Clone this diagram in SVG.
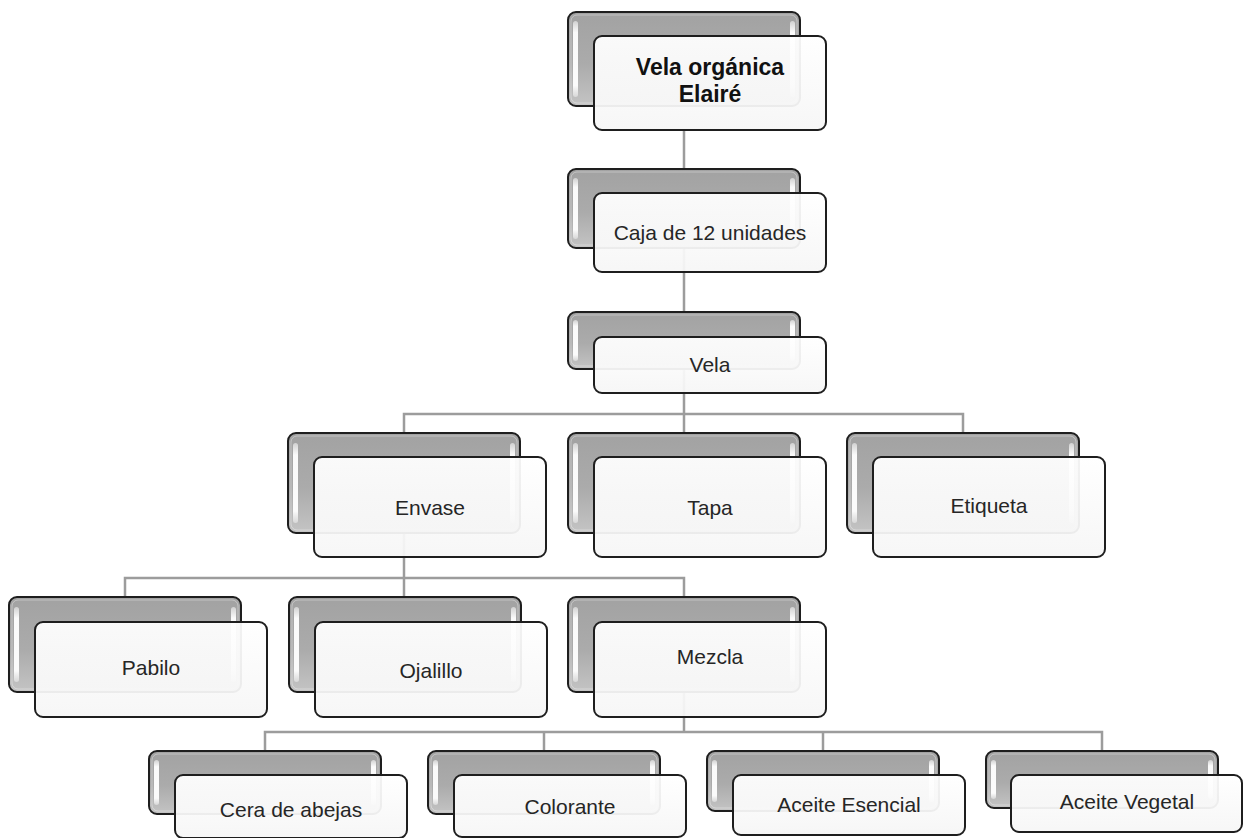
<svg xmlns="http://www.w3.org/2000/svg" width="1244" height="838" viewBox="0 0 1244 838">
  <defs>
    <linearGradient id="gBack" x1="0" y1="0" x2="0" y2="1">
      <stop offset="0" stop-color="#a2a2a2"/>
      <stop offset="0.55" stop-color="#ababab"/>
      <stop offset="1" stop-color="#c4c4c4"/>
    </linearGradient>
    <linearGradient id="gFront" x1="0" y1="0" x2="0" y2="1">
      <stop offset="0" stop-color="#ffffff"/>
      <stop offset="1" stop-color="#f6f6f6"/>
    </linearGradient>
    <linearGradient id="gShine" x1="0" y1="0" x2="0" y2="1">
      <stop offset="0" stop-color="#ffffff" stop-opacity="0.5"/>
      <stop offset="0.15" stop-color="#ffffff" stop-opacity="0.95"/>
      <stop offset="0.85" stop-color="#ffffff" stop-opacity="0.95"/>
      <stop offset="1" stop-color="#ffffff" stop-opacity="0.4"/>
    </linearGradient>
    <style>
      .conn{fill:none;stroke:#9c9c9c;stroke-width:2.5}
      .back{fill:url(#gBack);stroke:#1e1e1e;stroke-width:2}
      .inner{fill:none;stroke:#ffffff;stroke-opacity:0.35;stroke-width:1}
      .shine{fill:url(#gShine)}
      .front{fill:url(#gFront);fill-opacity:0.94;stroke:#1e1e1e;stroke-width:2}
      .lbl{font-family:"Liberation Sans",Arial,sans-serif;font-size:21px;fill:#262626;text-anchor:middle}
      .title{font-weight:bold;font-size:23px;fill:#111}
    </style>
  </defs>
  <rect width="1244" height="838" fill="#ffffff"/>

  <!-- connectors -->
  <g id="connectors">
    <path class="conn" d="M684 130 V433"/>
    <path class="conn" d="M404 433 V414 H963 V433"/>
    <path class="conn" d="M404 533 V578"/>
    <path class="conn" d="M125 597 V578 H684 V597"/>
    <path class="conn" d="M404 578 V597"/>
    <path class="conn" d="M684 692 V732"/>
    <path class="conn" d="M265 751 V732 H1102 V751"/>
    <path class="conn" d="M544 732 V751"/>
    <path class="conn" d="M823 732 V751"/>
  </g>

  <!-- level 0 -->
  <g id="n-vela-organica">
    <rect class="back" x="568" y="12" width="232" height="94" rx="8"/>
    <rect class="inner" x="571" y="15" width="226" height="88" rx="6"/>
    <rect class="shine" x="573" y="21" width="5" height="76" rx="2.5"/>
    <rect class="shine" x="790" y="21" width="5" height="76" rx="2.5"/>
    <rect class="front" x="594" y="36" width="232" height="94" rx="8"/>
    <text class="lbl title" x="710" y="75">Vela orgánica</text>
    <text class="lbl title" x="710" y="102">Elairé</text>
  </g>

  <!-- level 1 -->
  <g id="n-caja">
    <rect class="back" x="568" y="169" width="232" height="79" rx="8"/>
    <rect class="inner" x="571" y="172" width="226" height="73" rx="6"/>
    <rect class="shine" x="573" y="178" width="5" height="61" rx="2.5"/>
    <rect class="shine" x="790" y="178" width="5" height="61" rx="2.5"/>
    <rect class="front" x="594" y="193" width="232" height="79" rx="8"/>
    <text class="lbl" x="710" y="240">Caja de 12 unidades</text>
  </g>

  <!-- level 2 -->
  <g id="n-vela">
    <rect class="back" x="568" y="312" width="232" height="57" rx="8"/>
    <rect class="inner" x="571" y="315" width="226" height="51" rx="6"/>
    <rect class="shine" x="573" y="320" width="5" height="41" rx="2.5"/>
    <rect class="shine" x="790" y="320" width="5" height="41" rx="2.5"/>
    <rect class="front" x="594" y="337" width="232" height="56" rx="8"/>
    <text class="lbl" x="710" y="372">Vela</text>
  </g>

  <!-- level 3 -->
  <g id="n-envase">
    <rect class="back" x="288" y="433" width="232" height="100" rx="8"/>
    <rect class="inner" x="291" y="436" width="226" height="94" rx="6"/>
    <rect class="shine" x="293" y="443" width="5" height="80" rx="2.5"/>
    <rect class="shine" x="510" y="443" width="5" height="80" rx="2.5"/>
    <rect class="front" x="314" y="457" width="232" height="100" rx="8"/>
    <text class="lbl" x="430" y="515">Envase</text>
  </g>
  <g id="n-tapa">
    <rect class="back" x="568" y="433" width="232" height="100" rx="8"/>
    <rect class="inner" x="571" y="436" width="226" height="94" rx="6"/>
    <rect class="shine" x="573" y="443" width="5" height="80" rx="2.5"/>
    <rect class="shine" x="790" y="443" width="5" height="80" rx="2.5"/>
    <rect class="front" x="594" y="457" width="232" height="100" rx="8"/>
    <text class="lbl" x="710" y="515">Tapa</text>
  </g>
  <g id="n-etiqueta">
    <rect class="back" x="847" y="433" width="232" height="100" rx="8"/>
    <rect class="inner" x="850" y="436" width="226" height="94" rx="6"/>
    <rect class="shine" x="852" y="443" width="5" height="80" rx="2.5"/>
    <rect class="shine" x="1069" y="443" width="5" height="80" rx="2.5"/>
    <rect class="front" x="873" y="457" width="232" height="100" rx="8"/>
    <text class="lbl" x="989" y="513">Etiqueta</text>
  </g>

  <!-- level 4 -->
  <g id="n-pabilo">
    <rect class="back" x="9" y="597" width="232" height="95" rx="8"/>
    <rect class="inner" x="12" y="600" width="226" height="89" rx="6"/>
    <rect class="shine" x="14" y="607" width="5" height="75" rx="2.5"/>
    <rect class="shine" x="231" y="607" width="5" height="75" rx="2.5"/>
    <rect class="front" x="35" y="622" width="232" height="95" rx="8"/>
    <text class="lbl" x="151" y="675">Pabilo</text>
  </g>
  <g id="n-ojalillo">
    <rect class="back" x="289" y="597" width="232" height="95" rx="8"/>
    <rect class="inner" x="292" y="600" width="226" height="89" rx="6"/>
    <rect class="shine" x="294" y="607" width="5" height="75" rx="2.5"/>
    <rect class="shine" x="511" y="607" width="5" height="75" rx="2.5"/>
    <rect class="front" x="315" y="622" width="232" height="95" rx="8"/>
    <text class="lbl" x="431" y="678">Ojalillo</text>
  </g>
  <g id="n-mezcla">
    <rect class="back" x="568" y="597" width="232" height="95" rx="8"/>
    <rect class="inner" x="571" y="600" width="226" height="89" rx="6"/>
    <rect class="shine" x="573" y="607" width="5" height="75" rx="2.5"/>
    <rect class="shine" x="790" y="607" width="5" height="75" rx="2.5"/>
    <rect class="front" x="594" y="622" width="232" height="95" rx="8"/>
    <text class="lbl" x="710" y="664">Mezcla</text>
  </g>

  <!-- level 5 -->
  <g id="n-cera">
    <rect class="back" x="149" y="751" width="232" height="63" rx="8"/>
    <rect class="inner" x="152" y="754" width="226" height="57" rx="6"/>
    <rect class="shine" x="154" y="760" width="5" height="45" rx="2.5"/>
    <rect class="shine" x="371" y="760" width="5" height="45" rx="2.5"/>
    <rect class="front" x="175" y="775" width="232" height="63" rx="8"/>
    <text class="lbl" x="291" y="817">Cera de abejas</text>
  </g>
  <g id="n-colorante">
    <rect class="back" x="428" y="751" width="232" height="63" rx="8"/>
    <rect class="inner" x="431" y="754" width="226" height="57" rx="6"/>
    <rect class="shine" x="433" y="760" width="5" height="45" rx="2.5"/>
    <rect class="shine" x="650" y="760" width="5" height="45" rx="2.5"/>
    <rect class="front" x="454" y="775" width="232" height="62" rx="8"/>
    <text class="lbl" x="570" y="814">Colorante</text>
  </g>
  <g id="n-aceite-esencial">
    <rect class="back" x="707" y="751" width="232" height="60" rx="8"/>
    <rect class="inner" x="710" y="754" width="226" height="54" rx="6"/>
    <rect class="shine" x="712" y="760" width="5" height="42" rx="2.5"/>
    <rect class="shine" x="929" y="760" width="5" height="42" rx="2.5"/>
    <rect class="front" x="733" y="775" width="232" height="60" rx="8"/>
    <text class="lbl" x="849" y="812">Aceite Esencial</text>
  </g>
  <g id="n-aceite-vegetal">
    <rect class="back" x="986" y="751" width="232" height="57" rx="8"/>
    <rect class="inner" x="989" y="754" width="226" height="51" rx="6"/>
    <rect class="shine" x="991" y="760" width="5" height="39" rx="2.5"/>
    <rect class="shine" x="1208" y="760" width="5" height="39" rx="2.5"/>
    <rect class="front" x="1011" y="775" width="231" height="57" rx="8"/>
    <text class="lbl" x="1127" y="809">Aceite Vegetal</text>
  </g>
</svg>
